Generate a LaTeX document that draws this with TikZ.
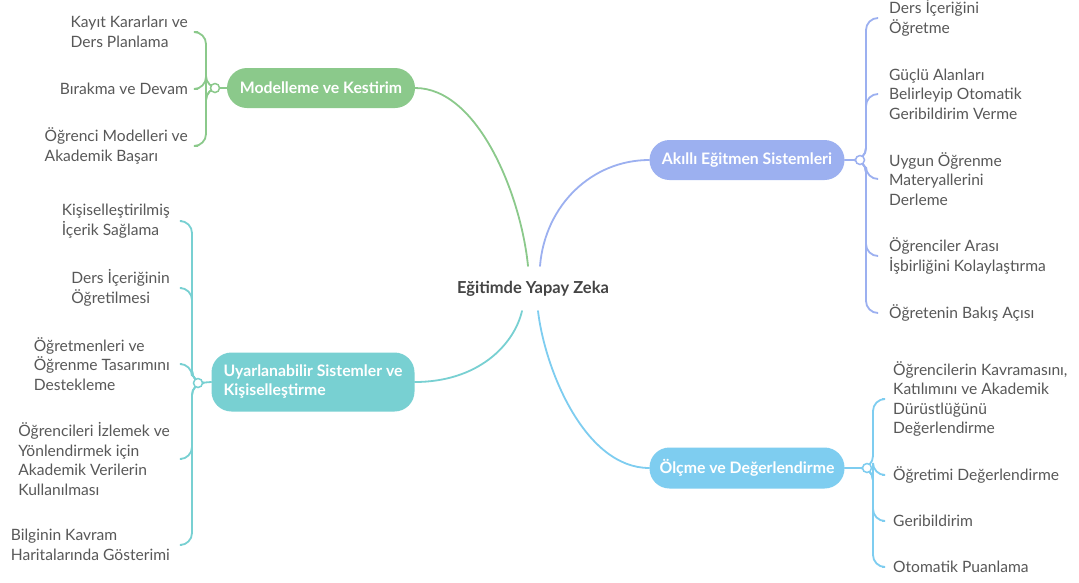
\documentclass[tikz,border=0pt]{standalone}
\usepackage{fontspec}
\setmainfont{Lato}
\definecolor{cgreen}{RGB}{139,201,139}
\definecolor{cteal}{RGB}{120,208,210}
\definecolor{cblue}{RGB}{156,176,240}
\definecolor{clblue}{RGB}{126,205,240}
\definecolor{ctext}{RGB}{88,88,88}
\definecolor{cdark}{RGB}{68,68,68}
\begin{document}
\begin{tikzpicture}[x=1pt,y=-1pt,
  pill/.style={rounded corners=20pt, text=white, font=\fontsize{15.8}{19}\selectfont\bfseries, minimum height=40pt, inner sep=0pt},
  leafL/.style={anchor=east, align=left, text=ctext, font=\fontsize{15.6}{19.5}\selectfont, inner ysep=0pt, inner xsep=#1},
  leafR/.style={anchor=west, align=left, text=ctext, font=\fontsize{15.6}{19.5}\selectfont, inner ysep=0pt, inner xsep=#1},
  conn/.style={line width=1.8pt, line cap=round},
  br/.style={line width=1.8pt, rounded corners=12pt},
  hub/.style={circle, draw, line width=1.5pt, fill=white, minimum size=9pt, inner sep=0pt}
]
\useasboundingbox (0,0) rectangle (1079,582);
\fill[white] (0,0) rectangle (1079,582);

% central
\node[text=cdark, font=\fontsize{16.5}{19}\selectfont\bfseries] (center) at (533,289) {Eğitimde Yapay Zeka};
\coordinate (cg) at (528,266);
\coordinate (cb) at (540,266);
\coordinate (ct) at (522,311);
\coordinate (cl) at (538,311);

% main branches
\node[pill, fill=cgreen, minimum width=188pt] (mod) at (321,88) {Modelleme ve Kestirim};
\node[pill, fill=cteal, minimum width=203pt, minimum height=59pt, align=left] (uy) at (313,382) {Uyarlanabilir Sistemler ve\\Kişiselleştirme};
\node[pill, fill=cblue, minimum width=195pt] (ak) at (747,160) {Akıllı Eğitmen Sistemleri};
\node[pill, fill=clblue, minimum width=195pt, minimum height=41pt] (ol) at (747,468) {Ölçme ve Değerlendirme};

\draw[conn, cgreen] (mod.east) .. controls (478,88) and (521,195) .. (cg);
\draw[conn, cblue] (ak.west) .. controls (592,160) and (545,205) .. (cb);
\draw[conn, cteal] (uy.east) .. controls (478,382) and (514,345) .. (ct);
\draw[conn, clblue] (ol.west) .. controls (585,468) and (545,370) .. (cl);

% hubs
\coordinate (hg) at (215,88);
\coordinate (ht) at (198,383);
\coordinate (hb) at (860,160);
\coordinate (hl) at (867,468);

% green leaves
\node[leafL=10pt] (g1) at (198,32) {Kayıt Kararları ve\\Ders Planlama};
\node[leafL=10pt] (g2) at (198,89) {Bırakma ve Devam};
\node[leafL=10pt] (g3) at (198,146) {Öğrenci Modelleri ve\\Akademik Başarı};

% teal leaves
\node[leafL=12pt] (t1) at (182,221) {Kişiselleştirilmiş\\İçerik Sağlama};
\node[leafL=12pt] (t2) at (182,288) {Ders İçeriğinin\\Öğretilmesi};
\node[leafL=12pt] (t3) at (182,364) {Öğretmenleri ve\\Öğrenme Tasarımını\\Destekleme};
\node[leafL=12pt] (t4) at (182,459) {Öğrencileri İzlemek ve\\Yönlendirmek için\\Akademik Verilerin\\Kullanılması};
\node[leafL=12pt] (t5) at (182,545) {Bilginin Kavram\\Haritalarında Gösterimi};

% blue leaves
\node[leafR=12pt] (b1) at (877,18) {Ders İçeriğini\\Öğretme};
\node[leafR=12pt] (b2) at (877,94) {Güçlü Alanları\\Belirleyip Otomatik\\Geribildirim Verme};
\node[leafR=12pt] (b3) at (877,179) {Uygun Öğrenme\\Materyallerini\\Derleme};
\node[leafR=12pt] (b4) at (877,256) {Öğrenciler Arası\\İşbirliğini Kolaylaştırma};
\node[leafR=12pt] (b5) at (877,313) {Öğretenin Bakış Açısı};

% light blue leaves
\node[leafR=11pt] (o1) at (882,399) {Öğrencilerin Kavramasını,\\Katılımını ve Akademik\\Dürüstlüğünü\\Değerlendirme};
\node[leafR=11pt] (o2) at (882,475) {Öğretimi Değerlendirme};
\node[leafR=11pt] (o3) at (882,521) {Geribildirim};
\node[leafR=11pt] (o4) at (882,567) {Otomatik Puanlama};

\foreach \n in {g1,g2,g3}
  \draw[br, cgreen] (hg) -- (206,88) -- (206,0 |- \n.east) -- (\n.east);
\foreach \n in {t1,t2,t3,t4,t5}
  \draw[br, cteal] (ht) -- (192,383) -- (192,0 |- \n.east) -- (\n.east);
\foreach \n in {b1,b2,b3,b4,b5}
  \draw[br, cblue] (hb) -- (866,160) -- (866,0 |- \n.west) -- (\n.west);
\foreach \n in {o1,o2,o3,o4}
  \draw[br, clblue] (hl) -- (873,468) -- (873,0 |- \n.west) -- (\n.west);

\draw[conn, cgreen] (mod.west) -- (hg);
\draw[conn, cteal] (uy.west) -- (ht);
\draw[conn, cblue] (ak.east) -- (hb);
\draw[conn, clblue] (ol.east) -- (hl);

\node[hub, draw=cgreen] at (hg) {};
\node[hub, draw=cteal] at (ht) {};
\node[hub, draw=cblue] at (hb) {};
\node[hub, draw=clblue] at (hl) {};
\end{tikzpicture}
\end{document}
